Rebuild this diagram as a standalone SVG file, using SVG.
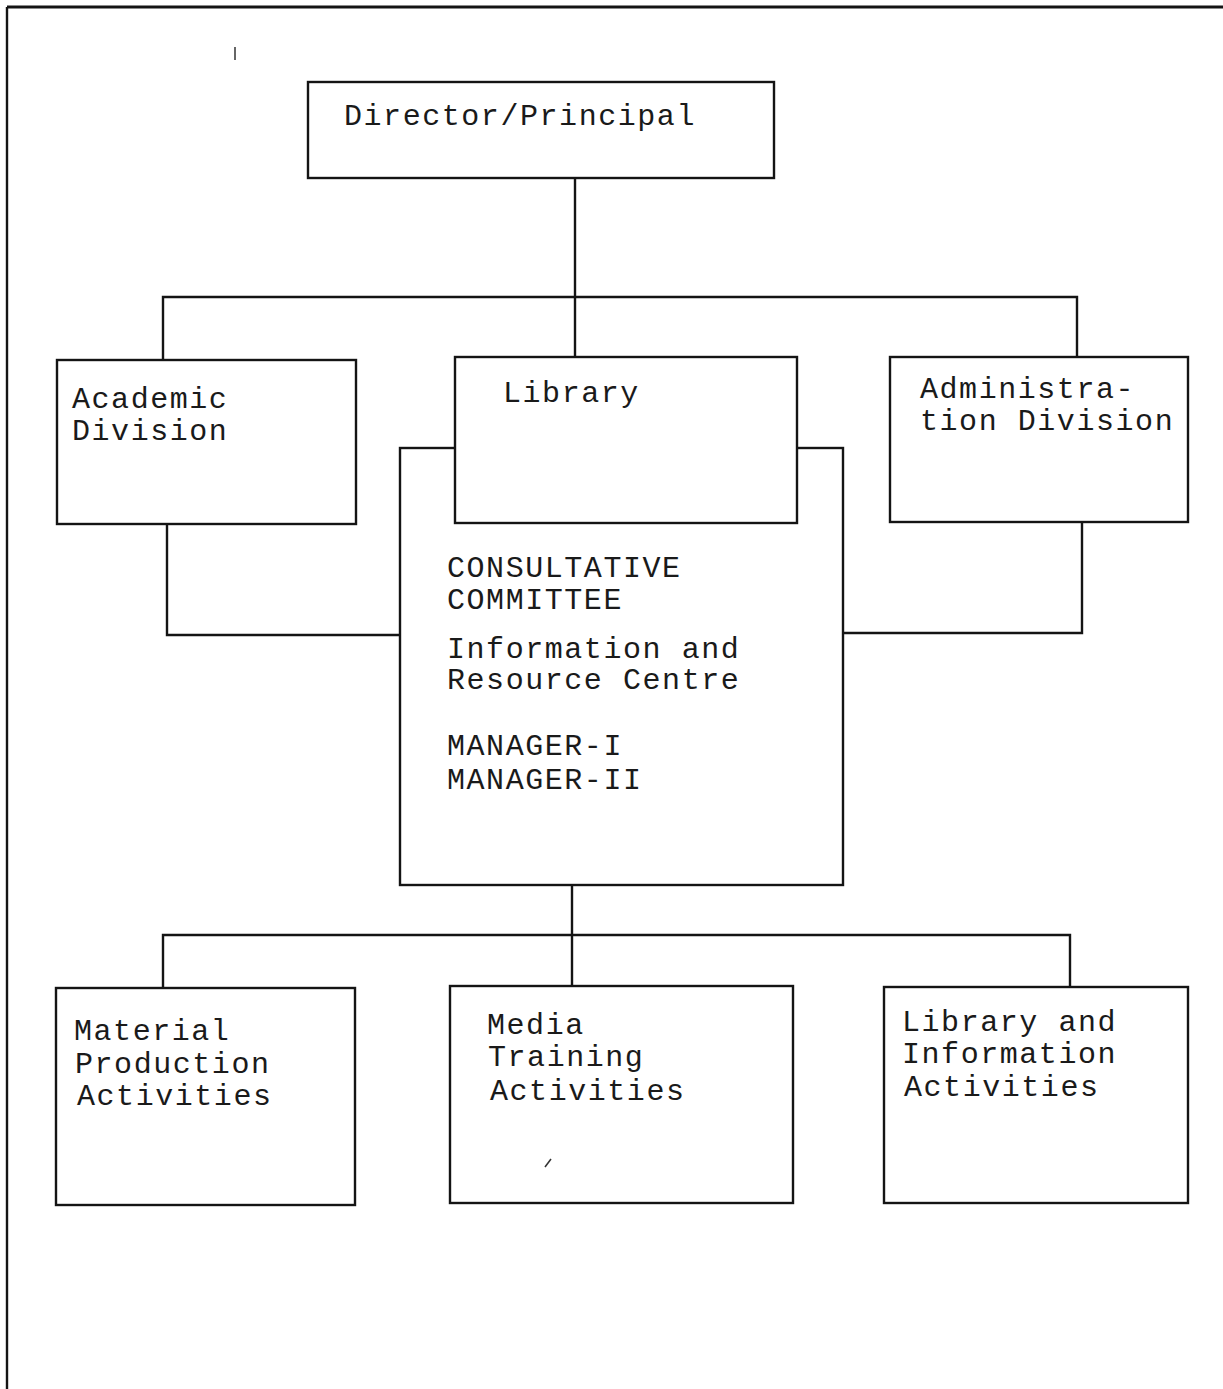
<svg xmlns="http://www.w3.org/2000/svg" width="1223" height="1389" viewBox="0 0 1223 1389">
<style>
.box{fill:#fff;stroke:#141414;stroke-width:2.4}
.ln{fill:none;stroke:#141414;stroke-width:2.4}
.t{font-family:"Liberation Mono","Courier New",monospace;font-size:30px;letter-spacing:1.55px;fill:#1a1a1a}
.mark{fill:none;stroke:#333;stroke-width:1.5}
</style>
<rect width="1223" height="1389" fill="#fff"/>
<g id="frame">
<path class="ln" d="M7 7 H1223" style="stroke-width:3"/>
<path class="ln" d="M7 7 V1389"/>
</g>
<g id="connectors">
<path class="ln" d="M575 178 V357"/>
<path class="ln" d="M163 360 V297 H1077 V357"/>
<path class="ln" d="M167 523 V635 H400"/>
<path class="ln" d="M1082 522 V633 H843"/>
<path class="ln" d="M572 885 V986"/>
<path class="ln" d="M163 988 V935 H1070 V986"/>
</g>
<g id="director">
<rect class="box" x="308" y="82" width="466" height="96"/>
<text class="t" x="344" y="125">Director/Principal</text>
</g>
<g id="academic">
<rect class="box" x="57" y="360" width="299" height="164"/>
<text class="t" x="72" y="408">Academic</text>
<text class="t" x="72" y="440">Division</text>
</g>
<g id="irc">
<rect class="box" x="400" y="448" width="443" height="437"/>
<text class="t" x="447" y="577">CONSULTATIVE</text>
<text class="t" x="447" y="609">COMMITTEE</text>
<text class="t" x="447" y="658">Information and</text>
<text class="t" x="447" y="689">Resource Centre</text>
<text class="t" x="447" y="755">MANAGER-I</text>
<text class="t" x="447" y="789">MANAGER-II</text>
</g>
<g id="library">
<rect class="box" x="455" y="357" width="342" height="166"/>
<text class="t" x="503" y="402">Library</text>
</g>
<g id="administration">
<rect class="box" x="890" y="357" width="298" height="165"/>
<text class="t" x="920" y="398">Administra-</text>
<text class="t" x="920" y="430">tion Division</text>
</g>
<g id="material">
<rect class="box" x="56" y="988" width="299" height="217"/>
<text class="t" x="74" y="1040">Material</text>
<text class="t" x="75" y="1073">Production</text>
<text class="t" x="77" y="1105">Activities</text>
</g>
<g id="media">
<rect class="box" x="450" y="986" width="343" height="217"/>
<text class="t" x="487" y="1034">Media</text>
<text class="t" x="488" y="1066">Training</text>
<text class="t" x="490" y="1100">Activities</text>
</g>
<g id="libinfo">
<rect class="box" x="884" y="987" width="304" height="216"/>
<text class="t" x="902" y="1031">Library and</text>
<text class="t" x="902" y="1063">Information</text>
<text class="t" x="904" y="1096">Activities</text>
</g>
<g id="marks">
<path class="mark" d="M235 47 V60"/>
<path class="mark" d="M545 1167 L551 1159"/>
</g>
</svg>
